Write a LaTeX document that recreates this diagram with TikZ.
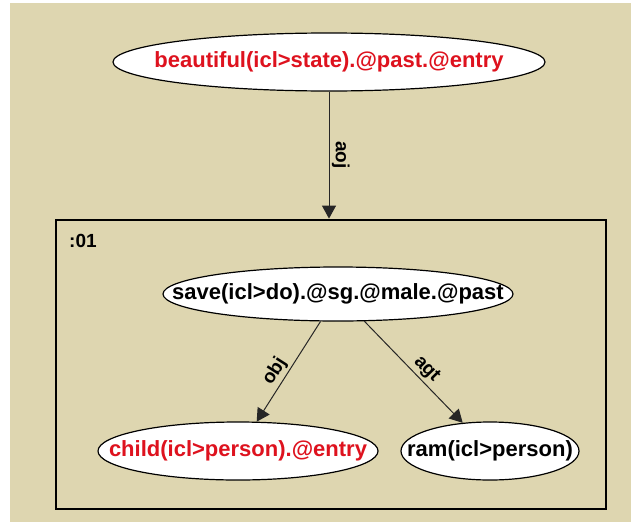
\documentclass[tikz,border=0pt]{standalone}
\usepackage{fontspec}
\setmainfont{Liberation Sans}
\usetikzlibrary{arrows.meta,shapes.geometric}
\definecolor{panelbg}{RGB}{222,214,176}
\definecolor{entryred}{RGB}{222,18,30}
% concept text is given zero width so the ellipse keeps its own size
\newcommand{\ctext}[1]{\makebox[0pt]{#1}}
\begin{document}
\begin{tikzpicture}[x=1pt,y=-1pt,
  concept/.style={ellipse, draw=black, line width=1.2pt, fill=white, inner sep=0pt,
    font=\bfseries\fontsize{22}{24}\selectfont},
  entry/.style={text=entryred},
  groupframe/.style={draw=black, line width=2.8pt, inner sep=0pt},
  rel/.style={draw=black!85, line width=1pt, -{Triangle[length=13pt,width=14pt]}},
  rellabel/.style={font=\bfseries\fontsize{19}{22}\selectfont, inner sep=2.5pt, text=black}]

  % page and panel
  \useasboundingbox (0,0) rectangle (631,522);
  \fill[white] (0,0) rectangle (631,522);
  \fill[panelbg] (10,3) rectangle (631,522);

  % top-level concept
  \node[concept, entry, minimum width=432pt, minimum height=58pt] (top) at (329,62)
    {\ctext{beautiful(icl>state).@past.@entry}};

  % scope :01
  \node[groupframe, minimum width=550pt, minimum height=289pt] (grp) at (331,364.5) {};
  \node[font=\bfseries\fontsize{19}{22}\selectfont, anchor=west, inner sep=0pt] (grplabel) at (69,241) {:01};

  % concepts inside the scope
  \node[concept, minimum width=350pt, minimum height=54pt] (save) at (338,294)
    {\ctext{save(icl>do).@sg.@male.@past}};
  \node[concept, entry, minimum width=280pt, minimum height=58pt] (child) at (238,451)
    {\ctext{child(icl>person).@entry}};
  \node[concept, minimum width=178pt, minimum height=58pt] (ram) at (490,451)
    {\ctext{ram(icl>person)}};

  % relations
  \draw[rel] (top) -- (top |- grp.north)
    node[rellabel, midway, rotate=-90, anchor=south] {aoj};
  \draw[rel] (save) -- (child)
    node[rellabel, pos=0.56, sloped, above] {obj};
  \draw[rel] (save) -- (ram)
    node[rellabel, pos=0.55, sloped, above] {agt};
\end{tikzpicture}
\end{document}
